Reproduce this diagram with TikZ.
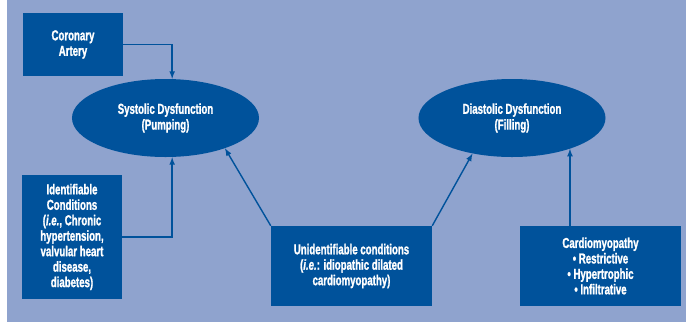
\documentclass[tikz,border=0pt]{standalone}
\usepackage{fontspec}
\setmainfont{Liberation Sans}[FakeStretch=0.67,FakeBold=1.2]
\usepackage{xcolor}
\usetikzlibrary{shapes,arrows,positioning}
\definecolor{bgblue}{HTML}{8FA3CE}
\definecolor{dblue}{HTML}{00529B}
\tikzstyle{box}=[rectangle, fill=dblue, text=white, align=center, inner sep=2pt, font=\bfseries\fontsize{12.3}{13.2}\selectfont]
\tikzstyle{oval}=[ellipse, fill=dblue, text=white, align=center, inner sep=0pt, minimum width=5.61cm, minimum height=2.34cm, font=\bfseries\fontsize{12.3}{13.5}\selectfont]
\tikzstyle{l1}=[line width=1.2pt, draw=dblue, -{latex}]

\begin{document}
\begin{tikzpicture}[x=0.03cm, y=-0.03cm]
    \useasboundingbox (0,0) rectangle (686,322);
    \fill[bgblue] (7,0) rectangle (686,322);

    \node[oval] at (165.5,118) (sys) {Systolic Dysfunction\\(Pumping)};
    \node[oval] at (512,118) (dia) {Diastolic Dysfunction\\(Filling)};

    \node[box, minimum width=3cm, minimum height=1.89cm] at (73,44.5) (ca) {Coronary\\Artery};
    \node[box, minimum width=3cm, minimum height=3.72cm] at (72,237) (idc)
        {Identifiable\\Conditions\\(\textit{i.e.}, Chronic\\hypertension,\\valvular heart\\disease,\\diabetes)};
    \node[box, minimum width=4.83cm, minimum height=2.4cm] at (351.5,266) (unc)
        {Unidentifiable conditions\\(\textit{i.e.}: idiopathic dilated\\cardiomyopathy)};
    \node[box, minimum width=4.83cm, minimum height=2.4cm] at (600.5,266) (cmp)
        {Cardiomyopathy\\\textbullet\ Restrictive\\\textbullet\ Hypertrophic\\\textbullet\ Infiltrative};

    \draw[l1] (ca.east) -| ([xshift=0.2cm]sys.north);
    \draw[l1] (idc.east) -| ([xshift=0.2cm]sys.south);
    \draw[l1] (unc.north west) -- (sys.-27);
    \draw[l1] (unc.north east) -- (dia.-138);
    \draw[l1] (cmp.north -| dia.-28) -- (dia.-28);
\end{tikzpicture}
\end{document}
